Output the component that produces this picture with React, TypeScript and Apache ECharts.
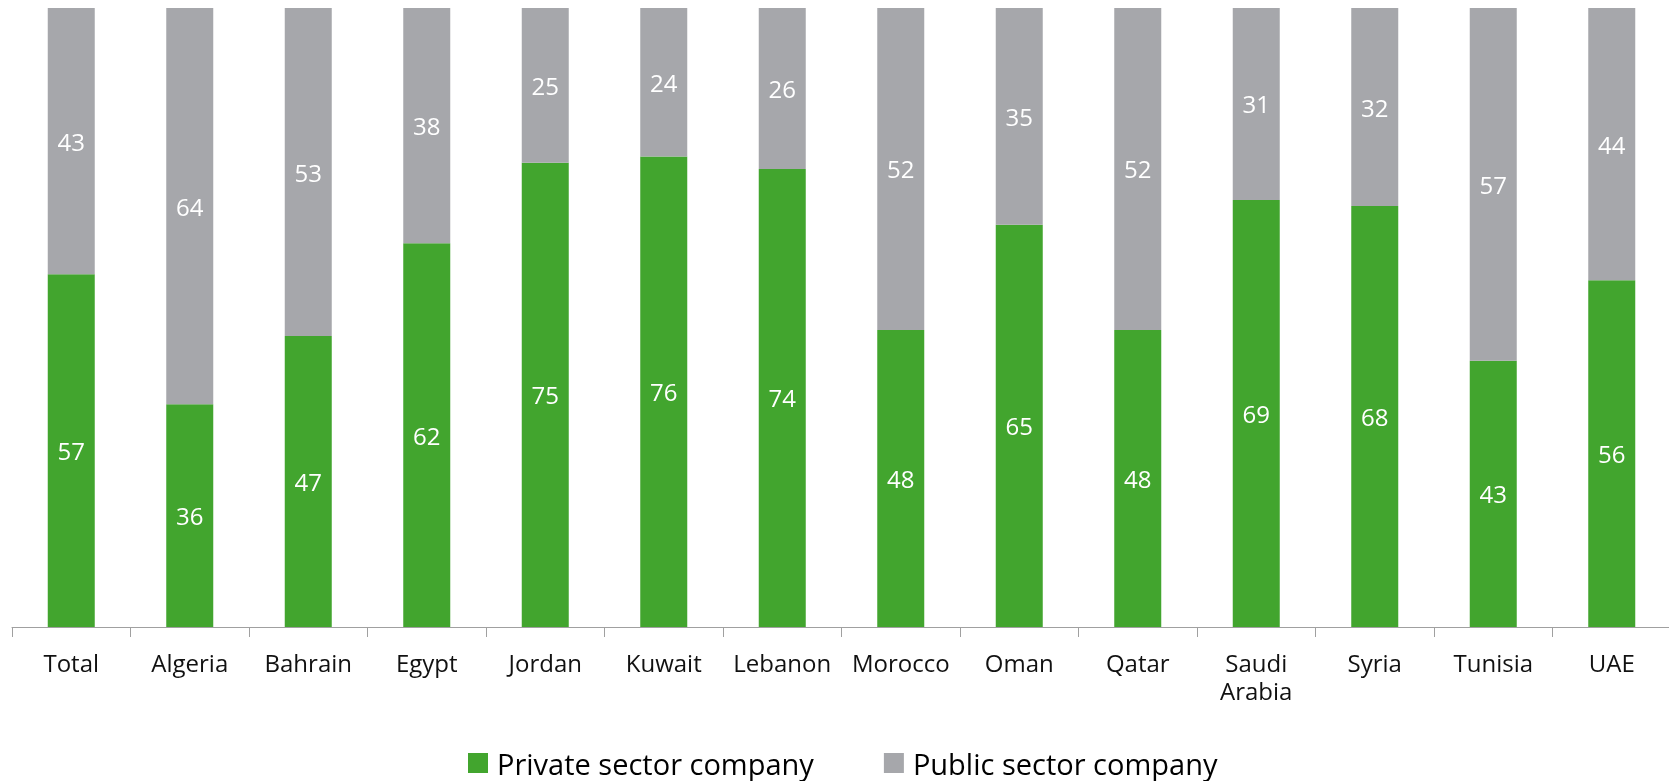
import React, { useEffect, useRef } from "react";
import * as echarts from "echarts";

const categories = ["Total", "Algeria", "Bahrain", "Egypt", "Jordan", "Kuwait", "Lebanon", "Morocco", "Oman", "Qatar", "Saudi\nArabia", "Syria", "Tunisia", "UAE"];
const privateSector = [57, 36, 47, 62, 75, 76, 74, 48, 65, 48, 69, 68, 43, 56];
const publicSector = [43, 64, 53, 38, 25, 24, 26, 52, 35, 52, 31, 32, 57, 44];

const FONT = "Open Sans";

export default function App() {
  const ref = useRef<HTMLDivElement>(null);
  useEffect(() => {
    if (!ref.current) return;
    const chart = echarts.init(ref.current, null, { renderer: "svg" });
    chart.setOption({
      animation: false,
      grid: { left: 12, right: 1, top: 8, bottom: 154, containLabel: false },
      legend: {
        top: 748,
        left: 468,
        padding: 0,
        itemWidth: 20,
        itemHeight: 20,
        itemGap: 70,
        icon: "rect",
        textStyle: { fontFamily: FONT, fontSize: 29, lineHeight: 30, color: "#000", padding: [0, 0, 0, 4] },
        data: ["Private sector company", "Public sector company"],
      },
      xAxis: {
        type: "category",
        data: categories,
        axisLine: { lineStyle: { color: "#a0a0a0", width: 1 } },
        axisTick: { show: true, length: 10, lineStyle: { color: "#a0a0a0" } },
        axisLabel: { fontFamily: FONT, fontSize: 24, color: "#111", margin: 21, lineHeight: 28, interval: 0 },
      },
      yAxis: { type: "value", min: 0, max: 100, show: false, splitLine: { show: false } },
      series: [
        {
          name: "Private sector company",
          type: "bar",
          stack: "s",
          data: privateSector,
          barWidth: 47,
          itemStyle: { color: "#42A52E" },
          label: { show: true, position: "inside", color: "#fff", fontFamily: FONT, fontSize: 24 },
        },
        {
          name: "Public sector company",
          type: "bar",
          stack: "s",
          data: publicSector,
          barWidth: 47,
          itemStyle: { color: "#A6A7AB" },
          label: { show: true, position: "inside", color: "#fff", fontFamily: FONT, fontSize: 24 },
        },
      ],
    });
    return () => chart.dispose();
  }, []);
  return <div ref={ref} style={{ position: "fixed", left: 0, top: 0, width: 1672, height: 781 }} />;
}
